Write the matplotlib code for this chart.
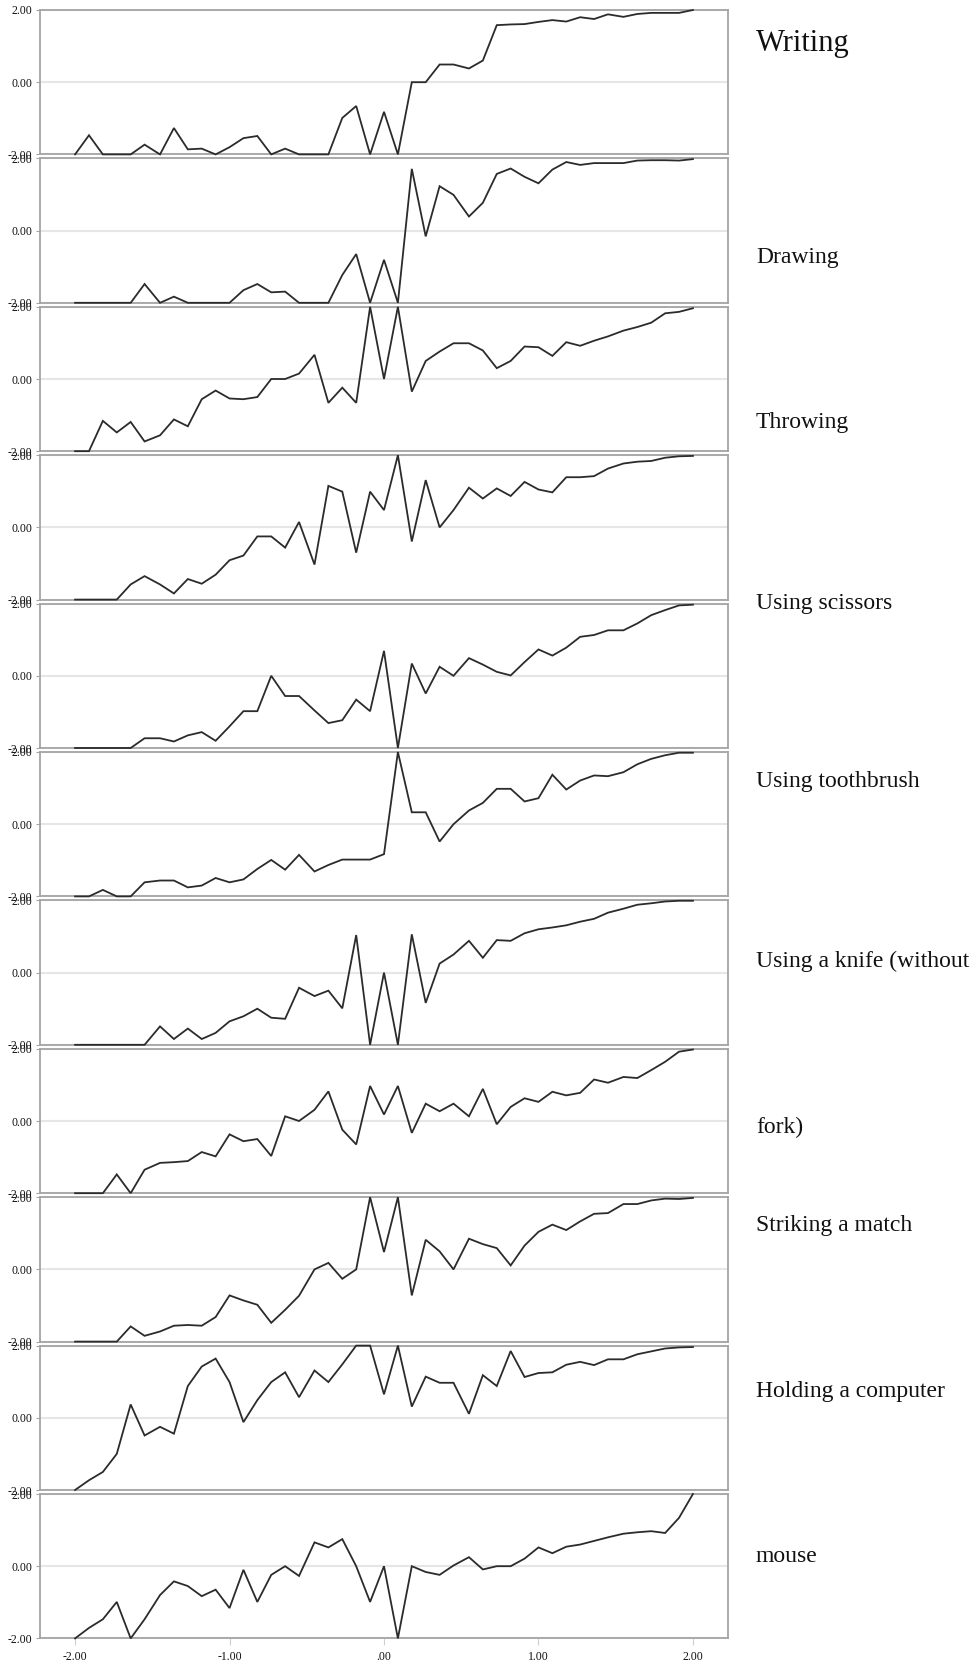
import matplotlib
matplotlib.use("Agg")
import matplotlib.pyplot as plt

# sampling grid shared by every row (45 points, step 1/11)
GRID = [-2.00, -1.91, -1.82, -1.73, -1.64, -1.55, -1.45, -1.36, -1.27, -1.18, -1.09,
        -1.00, -0.91, -0.82, -0.73, -0.64, -0.55, -0.45, -0.36, -0.27, -0.18, -0.09,
        0.00, 0.09, 0.18, 0.27, 0.36, 0.45, 0.55, 0.64, 0.73, 0.82, 0.91,
        1.00, 1.09, 1.18, 1.27, 1.36, 1.45, 1.55, 1.64, 1.73, 1.82, 1.91, 2.00]

row_01 = [-2.0, -1.47, -2.0, -2.0, -2.0, -1.73, -2.0, -1.27, -1.86, -1.84, -2.0,
          -1.80, -1.55, -1.49, -2.0, -1.84, -2.0, -2.0, -2.0, -0.99, -0.66, -2.0,
          -0.82, -2.0, 0.0, 0.0, 0.49, 0.49, 0.38, 0.60, 1.58, 1.60, 1.61,
          1.67, 1.72, 1.68, 1.80, 1.75, 1.88, 1.81, 1.89, 1.92, 1.92, 1.92, 2.0]
row_02 = [-2.0, -2.0, -2.0, -2.0, -2.0, -1.48, -2.0, -1.83, -2.0, -2.0, -2.0,
          -2.0, -1.65, -1.48, -1.71, -1.69, -2.0, -2.0, -2.0, -1.23, -0.65, -2.0,
          -0.81, -2.0, 1.71, -0.16, 1.23, 0.99, 0.39, 0.77, 1.57, 1.72, 1.49,
          1.31, 1.69, 1.90, 1.82, 1.87, 1.87, 1.87, 1.94, 1.95, 1.95, 1.94, 1.98]
row_03 = [-2.0, -2.0, -1.16, -1.48, -1.19, -1.73, -1.56, -1.12, -1.31, -0.56, -0.32,
          -0.54, -0.56, -0.50, 0.0, 0.0, 0.15, 0.67, -0.66, -0.24, -0.66, 2.0,
          0.0, 2.0, -0.35, 0.50, 0.76, 0.99, 0.99, 0.79, 0.30, 0.50, 0.90,
          0.88, 0.64, 1.02, 0.92, 1.06, 1.18, 1.34, 1.44, 1.56, 1.82, 1.86, 1.96]
row_04 = [-2.0, -2.0, -2.0, -2.0, -1.58, -1.35, -1.58, -1.83, -1.43, -1.56, -1.31,
          -0.91, -0.78, -0.25, -0.25, -0.56, 0.15, -1.03, 1.15, 0.99, -0.70, 0.99,
          0.48, 2.0, -0.39, 1.31, 0.0, 0.48, 1.10, 0.80, 1.08, 0.87, 1.26,
          1.05, 0.97, 1.39, 1.39, 1.42, 1.63, 1.77, 1.82, 1.84, 1.93, 1.97, 1.98]
row_05 = [-2.0, -2.0, -2.0, -2.0, -2.0, -1.73, -1.73, -1.82, -1.65, -1.56, -1.80,
          -1.40, -0.98, -0.98, 0.0, -0.56, -0.56, -0.96, -1.31, -1.23, -0.66, -0.98,
          0.69, -2.0, 0.34, -0.49, 0.25, 0.0, 0.49, 0.31, 0.11, 0.01, 0.38,
          0.73, 0.56, 0.78, 1.08, 1.13, 1.26, 1.26, 1.45, 1.68, 1.82, 1.95, 1.97]
row_06 = [-2.0, -2.0, -1.82, -2.0, -2.0, -1.61, -1.56, -1.56, -1.75, -1.70, -1.49,
          -1.61, -1.53, -1.24, -0.99, -1.26, -0.85, -1.31, -1.13, -0.98, -0.98, -0.98,
          -0.83, 2.0, 0.33, 0.33, -0.48, 0.0, 0.38, 0.59, 0.98, 0.98, 0.63,
          0.72, 1.37, 0.96, 1.21, 1.35, 1.33, 1.44, 1.66, 1.81, 1.91, 1.98, 1.98]
row_07 = [-2.0, -2.0, -2.0, -2.0, -2.0, -2.0, -1.49, -1.84, -1.55, -1.84, -1.67,
          -1.35, -1.21, -1.00, -1.25, -1.28, -0.42, -0.65, -0.50, -0.99, 1.04, -2.0,
          0.0, -2.0, 1.06, -0.84, 0.25, 0.50, 0.88, 0.41, 0.90, 0.88, 1.09,
          1.20, 1.25, 1.31, 1.41, 1.49, 1.66, 1.77, 1.88, 1.92, 1.97, 1.99, 1.99]
row_08 = [-2.0, -2.0, -2.0, -1.48, -2.0, -1.35, -1.16, -1.14, -1.11, -0.86, -0.98,
          -0.37, -0.56, -0.50, -0.97, 0.13, 0.0, 0.31, 0.82, -0.24, -0.65, 0.97,
          0.18, 0.97, -0.33, 0.48, 0.27, 0.48, 0.13, 0.89, -0.09, 0.39, 0.63,
          0.53, 0.81, 0.71, 0.78, 1.15, 1.06, 1.22, 1.19, 1.41, 1.64, 1.92, 1.98]
row_09 = [-2.0, -2.0, -2.0, -2.0, -1.58, -1.84, -1.72, -1.56, -1.54, -1.56, -1.32,
          -0.72, -0.86, -0.98, -1.48, -1.12, -0.73, 0.0, 0.18, -0.26, 0.0, 2.0,
          0.48, 2.0, -0.72, 0.82, 0.50, 0.0, 0.85, 0.70, 0.59, 0.11, 0.66,
          1.04, 1.24, 1.09, 1.33, 1.54, 1.56, 1.81, 1.81, 1.91, 1.96, 1.95, 1.98]
row_10 = [-2.0, -1.73, -1.50, -1.00, 0.37, -0.49, -0.25, -0.44, 0.88, 1.42, 1.64,
          0.99, -0.12, 0.49, 0.99, 1.26, 0.57, 1.31, 0.99, 1.48, 2.0, 2.0,
          0.65, 2.0, 0.31, 1.14, 0.97, 0.97, 0.11, 1.18, 0.88, 1.85, 1.13,
          1.24, 1.26, 1.47, 1.55, 1.46, 1.62, 1.62, 1.76, 1.84, 1.92, 1.95, 1.96]
row_11 = [-2.0, -1.71, -1.47, -0.99, -2.0, -1.47, -0.80, -0.42, -0.55, -0.83, -0.65,
          -1.16, -0.10, -0.99, -0.24, 0.0, -0.27, 0.66, 0.52, 0.75, 0.0, -0.99,
          0.0, -2.0, 0.0, -0.16, -0.24, 0.02, 0.25, -0.09, 0.0, 0.0, 0.21,
          0.52, 0.36, 0.54, 0.60, 0.70, 0.80, 0.90, 0.94, 0.97, 0.92, 1.34, 2.0]

ROWS = [row_01, row_02, row_03, row_04, row_05, row_06,
        row_07, row_08, row_09, row_10, row_11]

# side captions: (text, y in pixels from the top, font size)
CAPTIONS = [("Writing", 43, 22), ("Drawing", 258, 17), ("Throwing", 423, 17),
            ("Using scissors", 603, 17), ("Using toothbrush", 782, 17),
            ("Using a knife (without", 961, 17), ("fork)", 1127, 17),
            ("Striking a match", 1225, 17), ("Holding a computer", 1391, 17),
            ("mouse", 1557, 17)]

X_TICKS = [-2, -1, 0, 1, 2]
X_TICKLABELS = ["-2.00", "-1.00", ".00", "1.00", "2.00"]
Y_TICKS = [-2, 0, 2]
Y_TICKLABELS = ["-2.00", "0.00", "2.00"]

W, H = 978, 1670
plt.rcParams["font.family"] = ["Liberation Serif", "DejaVu Serif"]
fig = plt.figure(figsize=(W / 100, H / 100), dpi=100)

left, right = 40, 728
top0, step, ph = 10, 148.4, 144.4
spine_c = "#a4a4a4"

for i, ys in enumerate(ROWS):
    top = top0 + i * step
    ax = fig.add_axes([left / W, 1 - (top + ph) / H, (right - left) / W, ph / H])
    ax.plot(GRID, ys, color="#2b2b2b", lw=1.3, solid_joinstyle="miter",
            clip_on=False, zorder=4)
    ax.set_xlim(-2.227, 2.227)
    ax.set_ylim(-2, 2)
    ax.set_yticks(Y_TICKS)
    ax.set_yticklabels(Y_TICKLABELS)
    ax.grid(axis="y", color="#e6e6e6", lw=1.5, zorder=0)
    ax.set_axisbelow(True)
    for sp in ax.spines.values():
        sp.set_color(spine_c)
        sp.set_linewidth(1.3)
    ax.tick_params(axis="y", length=3, color=spine_c, labelsize=8.5,
                   labelcolor="#111111", pad=2.5)
    ax.set_xticks(X_TICKS)
    if i == len(ROWS) - 1:
        ax.set_xticklabels(X_TICKLABELS)
        ax.tick_params(axis="x", length=5, color="#d0d0d0", labelsize=8.5,
                       labelcolor="#111111", pad=4)
    else:
        ax.tick_params(axis="x", length=0, labelbottom=False)

for text, ypx, size in CAPTIONS:
    fig.text(756 / W, 1 - ypx / H, text, fontsize=size, va="center", ha="left",
             color="#111111")

fig.savefig("out.png", dpi=100)
